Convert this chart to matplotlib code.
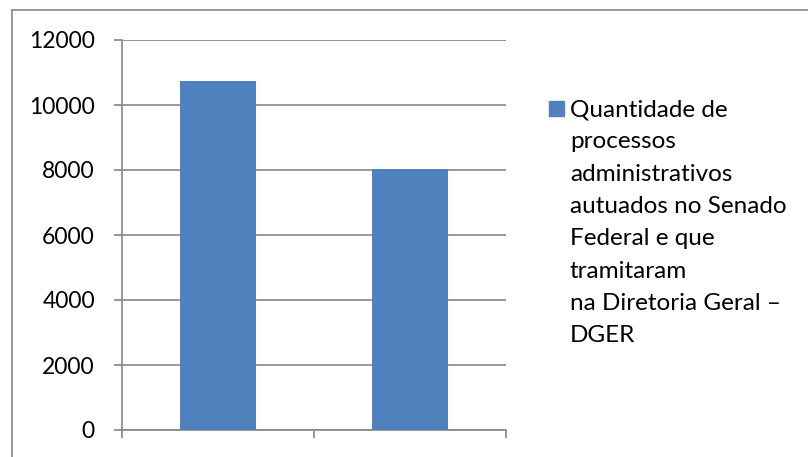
import matplotlib.pyplot as plt
from matplotlib.patches import Rectangle
from matplotlib.lines import Line2D

# dados do grafico
categorias = ["1", "2"]
quantidades = [10750, 8040]
legenda = ("Quantidade de\nprocessos\nadministrativos\nautuados no Senado\n"
           "Federal e que\ntramitaram\nna Diretoria Geral \u2013\nDGER")
ticks_y = [0, 2000, 4000, 6000, 8000, 10000, 12000]

cor_barra = "#4F81BD"
cinza = "#868686"

plt.rcParams['font.family'] = ['Lato', 'DejaVu Sans']

W, H = 808, 457
fig = plt.figure(figsize=(W / 100, H / 100), dpi=100)

# area do grafico em pixels: x 122..506, y 40..430
ax = fig.add_axes([122 / W, 1 - 430 / H, (506 - 122) / W, (430 - 40) / H])
x = range(len(quantidades))
ax.bar(x, quantidades, width=0.4, color=cor_barra, zorder=3)
ax.set_xlim(-0.5, len(quantidades) - 0.5)
ax.set_ylim(0, 12000)
ax.set_yticks(ticks_y)
ax.set_yticklabels([str(v) for v in ticks_y], fontsize=16.5)
ax.yaxis.grid(True, color=cinza, linewidth=1.2, zorder=0)
ax.set_xticks([-0.5, 0.5, 1.5])
ax.set_xticklabels([])
for s in ["top", "right"]:
    ax.spines[s].set_visible(False)
for s in ["left", "bottom"]:
    ax.spines[s].set_color(cinza)
    ax.spines[s].set_linewidth(1.2)
ax.tick_params(axis="y", length=6, width=1.2, color=cinza, pad=13.5)
ax.tick_params(axis="x", length=6, width=1.2, color=cinza)

# legenda desenhada a mao, marcador alinhado com a primeira linha
fig.patches.append(Rectangle((549 / W, 1 - 116 / H), 15 / W, 15 / H,
                             transform=fig.transFigure, color=cor_barra))
fig.text(570 / W, 1 - 99 / H, legenda, fontsize=17.5, va="top", ha="left",
         linespacing=1.665)

# moldura do grafico
fig.add_artist(Line2D([12 / W, 12 / W], [0, 1 - 10 / H], color=cinza,
                      linewidth=1.2, transform=fig.transFigure))
fig.add_artist(Line2D([12 / W, 1], [1 - 10 / H, 1 - 10 / H], color=cinza,
                      linewidth=1.2, transform=fig.transFigure))

fig.savefig("out.png", dpi=100)
